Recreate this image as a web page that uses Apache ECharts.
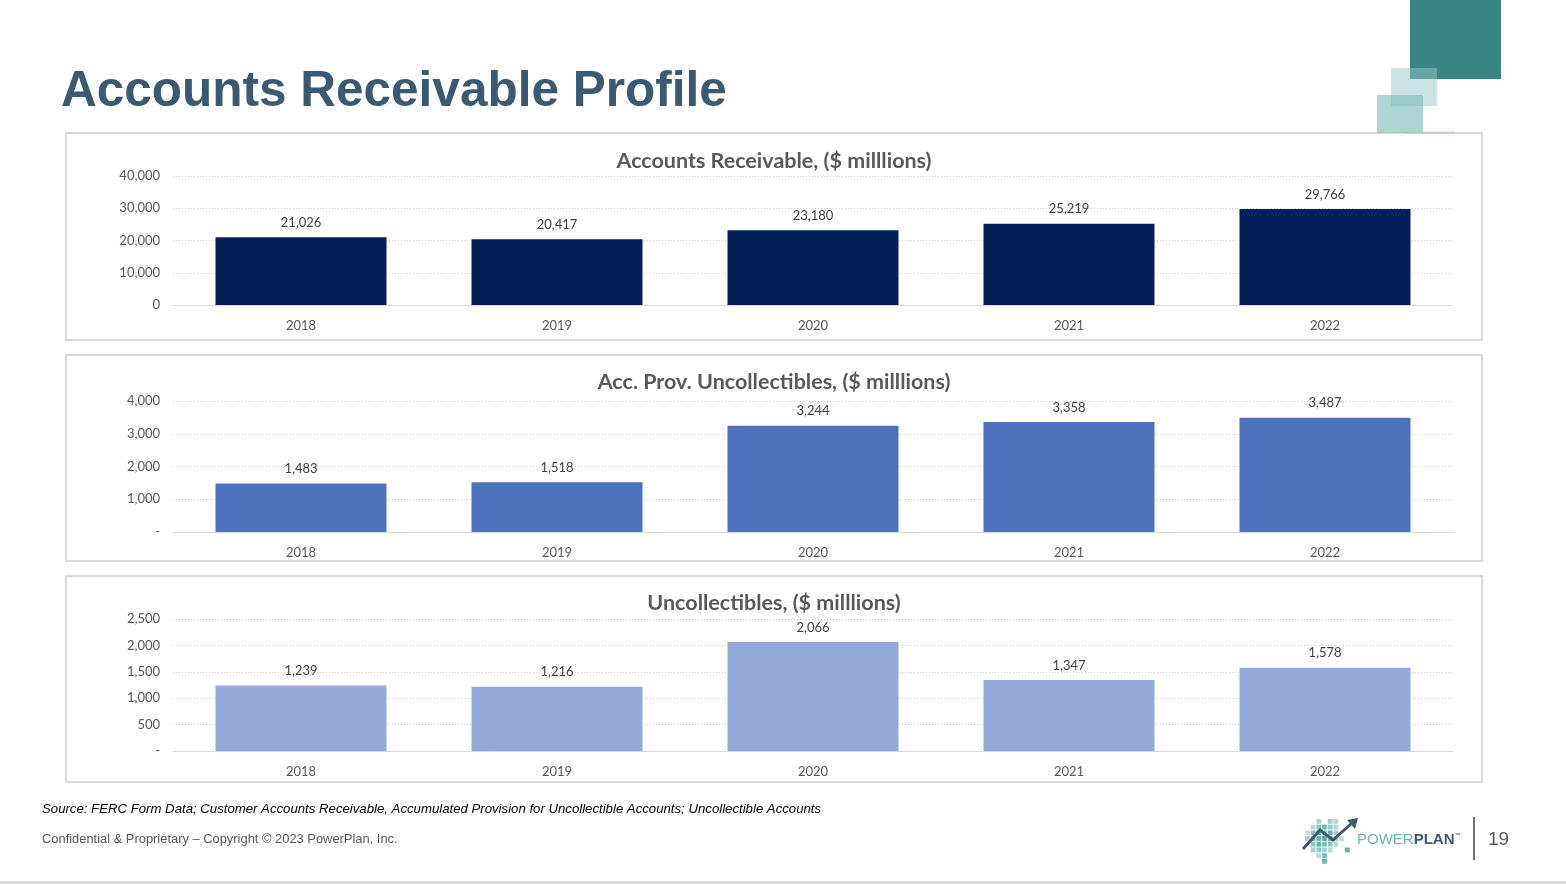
<!DOCTYPE html>
<html>
<head>
<meta charset="utf-8">
<script src="https://cdn.jsdelivr.net/npm/echarts@6/dist/echarts.min.js"></script>
<style>
html,body{margin:0;padding:0;background:#fff;}
#c{width:1566px;height:884px;}
</style>
</head>
<body>
<div id="c"></div>
<script>
var years = ['2018','2019','2020','2021','2022'];
var accountsReceivable = [21026, 20417, 23180, 25219, 29766];
var provUncollectibles = [1483, 1518, 3244, 3358, 3487];
var uncollectibles = [1239, 1216, 2066, 1347, 1578];
var chartTitles = ['Accounts Receivable, ($ milllions)', 'Acc. Prov. Uncollectibles, ($ milllions)', 'Uncollectibles, ($ milllions)'];
var yMax = [40000, 4000, 2500];
var yStep = [10000, 1000, 500];

var chart = echarts.init(document.getElementById('c'), null, {renderer:'canvas'});

var panels = [{top:133,h:207},{top:355,h:206},{top:576,h:206}];
var grids = [
  {left:173, right:113, top:176, height:129},
  {left:173, right:113, top:401, height:131},
  {left:173, right:113, top:619, height:132}
];
var colors = ['#06205A', '#4E73BE', '#93A9D7'];
var seriesData = [accountsReceivable, provUncollectibles, uncollectibles];
var titleY = [161, 382, 603];

function fmt(v){ return v.toLocaleString('en-US'); }

var xAxes=[], yAxes=[], series=[];
for (var i=0;i<3;i++){
  (function(i){
  xAxes.push({
    gridIndex:i, type:'category', data:years,
    axisLine:{lineStyle:{color:'#d9d9d9', width:1}},
    axisTick:{show:false},
    axisLabel:{color:'#595959', fontSize:13, margin:14, fontFamily:'Lato, "Open Sans", sans-serif'}
  });
  yAxes.push({
    gridIndex:i, type:'value', min:0, max:yMax[i], interval:yStep[i],
    axisLine:{show:false}, axisTick:{show:false},
    splitLine:{lineStyle:{color:'#d0d0d0', type:[1,2], width:1}},
    axisLabel:{color:'#595959', fontSize:13, margin:13, fontFamily:'Lato, "Open Sans", sans-serif',
      padding:[2,0,0,0],
      formatter:function(v){ if(v===0) return i===0?'0':'-'; return fmt(v);} }
  });
  series.push({
    type:'bar', xAxisIndex:i, yAxisIndex:i, data:seriesData[i],
    barWidth:171,
    itemStyle:{color:colors[i]},
    label:{show:true, position:'top', distance:8, color:'#404040', fontSize:13,
      fontFamily:'Lato, "Open Sans", sans-serif', formatter:function(p){return fmt(p.value);}}
  });
  })(i);
}

var graphic = [];
// panel borders
panels.forEach(function(p){
  graphic.push({type:'rect', shape:{x:66,y:p.top,width:1416,height:p.h}, style:{fill:'none', stroke:'#d9d9d9', lineWidth:2}, z:-1});
});
// chart titles
chartTitles.forEach(function(t,i){
  graphic.push({type:'text', x:774, y:titleY[i], style:{text:t, textAlign:'center', textVerticalAlign:'middle',
    font:'bold 21.5px Lato, "Open Sans", sans-serif', fill:'#595959'}});
});
// main title
graphic.push({type:'text', x:61, y:92, style:{text:'Accounts Receivable Profile', textVerticalAlign:'middle',
  font:'bold 49.5px "Liberation Sans", Arial, sans-serif', fill:'#3A5A74'}});
// decoration squares
graphic.push({type:'rect', shape:{x:1410,y:0,width:91,height:79}, style:{fill:'#3A8584'}, z:1});
graphic.push({type:'rect', shape:{x:1391,y:68,width:46,height:38}, style:{fill:'rgba(150,200,198,0.5)'}, z:2});
graphic.push({type:'rect', shape:{x:1377,y:95,width:46,height:38}, style:{fill:'rgba(120,185,183,0.6)'}, z:3});
graphic.push({type:'rect', shape:{x:1403,y:131,width:52,height:3}, style:{fill:'rgba(150,200,198,0.35)'}, z:3});
// footer
graphic.push({type:'text', x:42, y:809, style:{text:'Source: FERC Form Data; Customer Accounts Receivable, Accumulated Provision for Uncollectible Accounts; Uncollectible Accounts',
  textVerticalAlign:'middle', font:'italic 13.2px "Liberation Sans", Arial, sans-serif', fill:'#000'}});
graphic.push({type:'text', x:42, y:839, style:{text:'Confidential & Proprietary \u2013 Copyright \u00a9 2023 PowerPlan, Inc.',
  textVerticalAlign:'middle', font:'12.9px "Liberation Sans", Arial, sans-serif', fill:'#595959'}});
// logo squares
var logoCells = [
  [0,2,0.45],[0,4,0.5],[0,5,0.4],
  [1,1,0.4],[1,2,0.6],[1,3,0.7],[1,4,0.55],[1,5,0.4],
  [2,0,0.35],[2,1,0.6],[2,2,0.8],[2,3,0.6],[2,4,0.8],[2,5,0.5],
  [3,0,0.45],[3,1,0.7],[3,2,0.8],[3,3,0.9],[3,4,0.7],[3,5,0.5],[3,6,0.35],
  [4,1,0.6],[4,2,0.8],[4,3,0.7],[4,4,0.6],[4,5,0.4],
  [5,1,0.5],[5,2,0.6],[5,3,0.5],[5,4,0.4],[5,7,0.8],
  [6,3,0.7],[6,2,0.4],
  [7,3,0.8]
];
logoCells.forEach(function(c){
  graphic.push({type:'rect', shape:{x:1305+c[1]*5.7, y:819+c[0]*5.7, width:4.8, height:4.8}, style:{fill:'rgba(70,160,150,'+c[2]+')'}});
});
graphic.push({type:'polyline', shape:{points:[[1303,849],[1320,830],[1333,840],[1352,823]]}, style:{stroke:'#3D5A6C', lineWidth:3, fill:null}, z:5});
graphic.push({type:'polygon', shape:{points:[[1358,818],[1347,820],[1355,829]]}, style:{fill:'#3D5A6C'}, z:5});
graphic.push({type:'text', x:1357, y:840, style:{rich:{a:{font:'15px "Liberation Sans", Arial, sans-serif', fill:'#6BB8B0'}, b:{font:'bold 15px "Liberation Sans", Arial, sans-serif', fill:'#3D5A6C'}, t:{font:'6px sans-serif', fill:'#3D5A6C', verticalAlign:'top'}},
  text:'{a|POWER}{b|PLAN}{t|\u2122}', textVerticalAlign:'middle'}});
graphic.push({type:'rect', shape:{x:1473,y:817,width:2,height:43}, style:{fill:'#6f6f6f'}});
graphic.push({type:'text', x:1488, y:840, style:{text:'19', textVerticalAlign:'middle', font:'19px "Liberation Sans", Arial, sans-serif', fill:'#595959'}});
graphic.push({type:'rect', shape:{x:0,y:881,width:1566,height:3}, style:{fill:'#d9d9d9'}});

chart.setOption({
  animation:false,
  grid:grids,
  xAxis:xAxes,
  yAxis:yAxes,
  series:series,
  graphic:graphic
});
</script>
</body>
</html>
